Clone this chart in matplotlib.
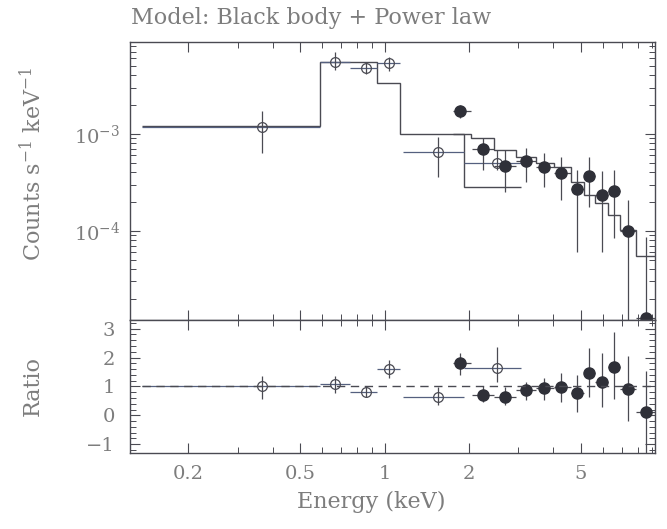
import numpy as np
import matplotlib
matplotlib.use("Agg")
import matplotlib.pyplot as plt
from matplotlib.ticker import FixedLocator, FixedFormatter, LogLocator, NullFormatter, MultipleLocator

plt.rcParams['font.family'] = ['DejaVu Serif']
plt.rcParams['mathtext.fontset'] = 'dejavuserif'

# Open circles (low-energy instrument)
open_E = [0.365, 0.667, 0.862, 1.04, 1.55, 2.52]
open_lo = [0.137, 0.59, 0.755, 0.94, 1.16, 1.92]
open_hi = [0.59, 0.755, 0.94, 1.14, 1.92, 3.07]
open_rate = [1.18e-3, 5.5e-3, 4.8e-3, 5.4e-3, 6.5e-4, 5.0e-4]
open_rate_lo = [6.4e-4, 4.6e-3, 4.1e-3, 4.5e-3, 3.6e-4, 4.25e-4]
open_rate_hi = [1.7e-3, 7.0e-3, 5.4e-3, 6.2e-3, 9.3e-4, 6.8e-4]
open_ratio = [1.0, 1.07, 0.8, 1.62, 0.65, 1.65]
open_ratio_lo = [0.55, 0.77, 0.62, 1.3, 0.35, 1.14]
open_ratio_hi = [1.35, 1.37, 1.0, 1.93, 0.97, 2.38]

# Filled circles (high-energy instrument)
filled_E = [1.86, 2.24, 2.69, 3.18, 3.71, 4.27, 4.84, 5.34, 5.95, 6.57, 7.37, 8.55]
filled_lo = [1.75, 2.05, 2.46, 2.95, 3.48, 4.03, 4.60, 5.13, 5.61, 6.25, 6.90, 7.87]
filled_hi = [2.03, 2.46, 2.95, 3.48, 4.03, 4.60, 5.13, 5.61, 6.25, 6.90, 7.87, 9.2]
filled_rate = [1.72e-3, 7.0e-4, 4.7e-4, 5.3e-4, 4.6e-4, 3.95e-4, 2.7e-4, 3.7e-4, 2.35e-4, 2.6e-4, 1.0e-4, 1.25e-5]
filled_rate_lo = [1.46e-3, 4.25e-4, 2.5e-4, 3.2e-4, 2.8e-4, 2.1e-4, 6.1e-5, 1.77e-4, 6.1e-5, 8.5e-5, 1e-6, 1e-6]
filled_rate_hi = [2.0e-3, 9.1e-4, 6.8e-4, 7.2e-4, 6.4e-4, 5.8e-4, 4.25e-4, 5.7e-4, 4.1e-4, 4.25e-4, 2.1e-4, 8.7e-5]
filled_ratio = [1.8, 0.72, 0.65, 0.86, 0.93, 0.97, 0.76, 1.48, 1.17, 1.69, 0.9, 0.1]
filled_ratio_lo = [1.4, 0.45, 0.35, 0.52, 0.52, 0.45, 0.1, 0.65, 0.28, 0.55, -0.2, -1.5]
filled_ratio_hi = [2.17, 1.0, 0.97, 1.17, 1.3, 1.48, 1.38, 2.34, 2.17, 2.9, 2.07, 1.52]

# Model (black body + power law), folded through each instrument
open_model_edges = [0.137, 0.59, 0.94, 1.14, 1.92, 3.07]
open_model = [1.2e-3, 5.5e-3, 3.36e-3, 1.0e-3, 2.85e-4]
filled_model_edges = [1.75, 2.03, 2.46, 2.95, 3.48, 4.03, 4.60, 5.13, 5.61, 6.25, 6.90, 7.87, 9.2]
filled_model = [1.0e-3, 9.1e-4, 6.8e-4, 5.8e-4, 5.0e-4, 4.6e-4, 3.2e-4, 2.35e-4, 1.95e-4, 1.47e-4, 1.03e-4, 5.5e-5]

xtick_vals = [0.2, 0.5, 1, 2, 5]
xtick_labels = ['0.2', '0.5', '1', '2', '5']

ink = '#4a4a52'
txt = '#7d7d7d'


def errs(v, lo, hi):
    v = np.array(v)
    return [v - np.array(lo), np.array(hi) - v]


fig = plt.figure(figsize=(6.67, 5.29), dpi=100)
ax1 = fig.add_axes([0.195, 0.395, 0.787, 0.526])
ax2 = fig.add_axes([0.195, 0.144, 0.787, 0.251], sharex=ax1)

# upper panel
ax1.stairs(open_model, open_model_edges, baseline=None, color=ink, lw=1.0)
ax1.stairs(filled_model, filled_model_edges, baseline=None, color=ink, lw=1.0)
eb = ax1.errorbar(open_E, open_rate, yerr=errs(open_rate, open_rate_lo, open_rate_hi),
                  xerr=errs(open_E, open_lo, open_hi), fmt='o', ms=7, mfc='none', mec=ink,
                  mew=0.9, ecolor=ink, elinewidth=0.9)
eb[2][0].set_color('#55607f')
ax1.errorbar(filled_E, filled_rate, yerr=errs(filled_rate, filled_rate_lo, filled_rate_hi),
             xerr=errs(filled_E, filled_lo, filled_hi), fmt='o', ms=8, mfc='#2f3038', mec='#2f3038',
             ecolor=ink, elinewidth=0.9)

ax1.set_xscale('log')
ax1.set_yscale('log')
ax1.set_xlim(0.124, 9.2)
ax1.set_ylim(1.2e-5, 8.9e-3)
ax1.yaxis.set_minor_locator(LogLocator(base=10, subs=np.arange(2, 10)))
ax1.yaxis.set_minor_formatter(NullFormatter())
ax1.tick_params(axis='x', labelbottom=False)

# lower panel
eb = ax2.errorbar(open_E, open_ratio, yerr=errs(open_ratio, open_ratio_lo, open_ratio_hi),
                  xerr=errs(open_E, open_lo, open_hi), fmt='o', ms=7, mfc='none', mec=ink,
                  mew=0.9, ecolor=ink, elinewidth=0.9)
eb[2][0].set_color('#55607f')
ax2.errorbar(filled_E, filled_ratio, yerr=errs(filled_ratio, filled_ratio_lo, filled_ratio_hi),
             xerr=errs(filled_E, filled_lo, filled_hi), fmt='o', ms=8, mfc='#2f3038', mec='#2f3038',
             ecolor=ink, elinewidth=0.9)
ax2.plot([0.137, 9.2], [1, 1], ls=(0, (6, 4)), color=ink, lw=1.0, zorder=4)
ax2.set_ylim(-1.3, 3.3)
ax2.yaxis.set_major_locator(MultipleLocator(1))
ax2.yaxis.set_minor_locator(MultipleLocator(0.2))
ax2.xaxis.set_major_locator(FixedLocator(xtick_vals))
ax2.xaxis.set_major_formatter(FixedFormatter(xtick_labels))
ax2.xaxis.set_minor_locator(LogLocator(base=10, subs=np.arange(1, 10)))
ax2.xaxis.set_minor_formatter(NullFormatter())

for ax in (ax1, ax2):
    for s in ax.spines.values():
        s.set_color(ink)
        s.set_linewidth(1.0)
    ax.tick_params(which='both', direction='in', top=True, right=True, colors=ink,
                   labelcolor=txt, labelsize=14)
    ax.tick_params(which='major', length=7, width=0.8)
    ax.tick_params(which='minor', length=4, width=0.7)
ax1.tick_params(axis='y', pad=7)
ax2.tick_params(axis='y', pad=11)
ax2.tick_params(axis='x', pad=9)

fig.text(0.197, 0.966, 'Model: Black body + Power law', fontsize=16, color=txt,
         ha='left', va='center')
fig.text(0.049, 0.69, r'Counts s$^{-1}$ keV$^{-1}$', fontsize=16, color=txt,
         rotation=90, ha='center', va='center')
fig.text(0.049, 0.27, 'Ratio', fontsize=16, color=txt, rotation=90, ha='center', va='center')
fig.text(0.556, 0.051, 'Energy (keV)', fontsize=16, color=txt, ha='center', va='center')

fig.savefig('out.png', dpi=100)
